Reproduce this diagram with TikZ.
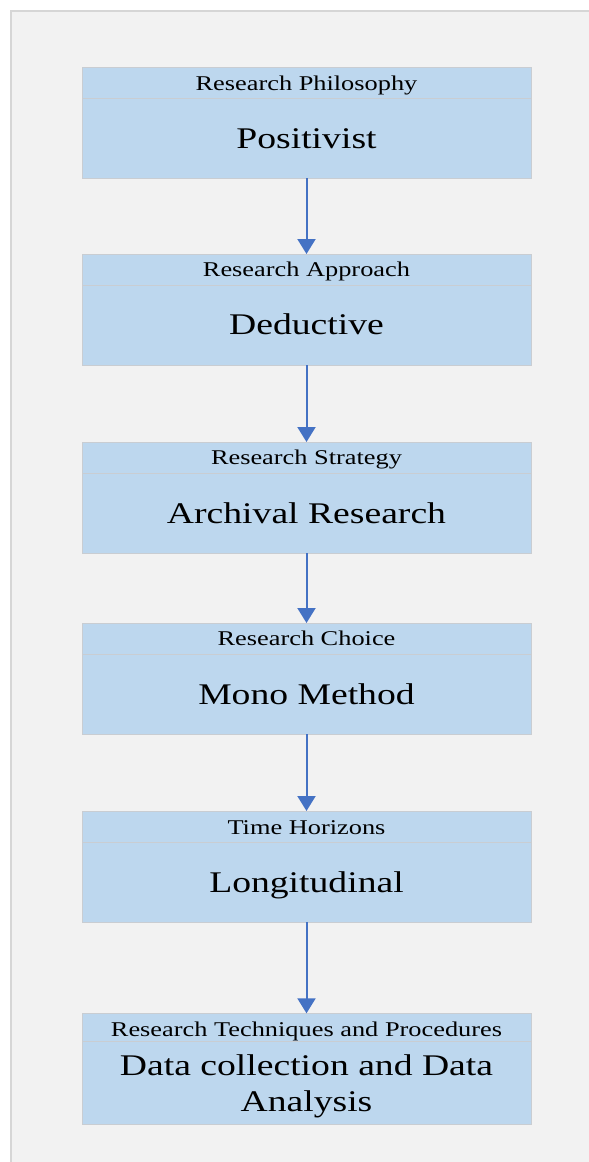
\documentclass[tikz,border=0pt]{standalone}
\usepackage{fontspec}
\setmainfont{Liberation Serif}[FakeStretch=1.255]
\usetikzlibrary{arrows.meta}

\definecolor{panelgray}{HTML}{F2F2F2}
\definecolor{panelline}{HTML}{D6D6D6}
\definecolor{boxblue}{HTML}{BDD7EE}
\definecolor{boxline}{HTML}{C9CDD2}
\definecolor{arrowblue}{HTML}{4472C4}

\begin{document}
\begin{tikzpicture}[x=1pt,y=-1pt,
  stage/.style={draw=boxline, line width=0.9pt, fill=boxblue,
    minimum width=449pt, minimum height=111pt, inner sep=0pt, outer sep=0pt},
  headtext/.style={anchor=base, inner sep=0pt, font=\fontsize{21}{25}\selectfont},
  maintext/.style={anchor=base, inner sep=0pt, align=center,
    font=\fontsize{30}{36.7}\selectfont},
  divider/.style={draw=boxline, line width=0.8pt},
  flow/.style={draw=arrowblue, line width=2pt,
    -{Triangle[length=15pt,width=18pt,fill=arrowblue]}}]

% page and grey panel
\useasboundingbox (0,0) rectangle (589,1162);
\fill[white] (0,0) rectangle (589,1162);
\fill[panelgray] (11,11) rectangle (589,1162);
\draw[panelline, line width=1.2pt] (11,1162) -- (11,11) -- (589,11);

% stage boxes
\node[stage] (b1) at (306.5,122.5) {};
\node[stage] (b2) at (306.5,309.5) {};
\node[stage] (b3) at (306.5,497.5) {};
\node[stage] (b4) at (306.5,678.5) {};
\node[stage] (b5) at (306.5,866.5) {};
\node[stage] (b6) at (306.5,1068.8) {};

% header bands
\foreach \b/\d in {b1/31.6, b2/31, b3/31, b4/31, b5/31, b6/28}
  \draw[divider] ([yshift=-\d pt]\b.north west) -- ([yshift=-\d pt]\b.north east);

% header labels
\node[headtext] (h1) at ([yshift=-23.5pt]b1.north) {Research Philosophy};
\node[headtext] (h2) at ([yshift=-22.8pt]b2.north) {Research Approach};
\node[headtext] (h3) at ([yshift=-22.8pt]b3.north) {Research Strategy};
\node[headtext] (h4) at ([yshift=-22.8pt]b4.north) {Research Choice};
\node[headtext] (h5) at ([yshift=-23.5pt]b5.north) {Time Horizons};
\node[headtext] (h6) at ([yshift=-23.4pt]b6.north) {Research Techniques and Procedures};

% main labels
\node[maintext] (m1) at ([yshift=-81pt]b1.north) {Positivist};
\node[maintext] (m2) at ([yshift=-80.5pt]b2.north) {Deductive};
\node[maintext] (m3) at ([yshift=-81pt]b3.north) {Archival Research};
\node[maintext] (m4) at ([yshift=-81pt]b4.north) {Mono Method};
\node[maintext] (m5) at ([yshift=-81pt]b5.north) {Longitudinal};
\node[maintext] (m6) at ([yshift=-98.4pt]b6.north) {Data collection and Data\\Analysis};

% connectors
\draw[flow] (b1.south) -- (b2.north);
\draw[flow] (b2.south) -- (b3.north);
\draw[flow] (b3.south) -- (b4.north);
\draw[flow] (b4.south) -- (b5.north);
\draw[flow] (b5.south) -- (b6.north);
\end{tikzpicture}
\end{document}
